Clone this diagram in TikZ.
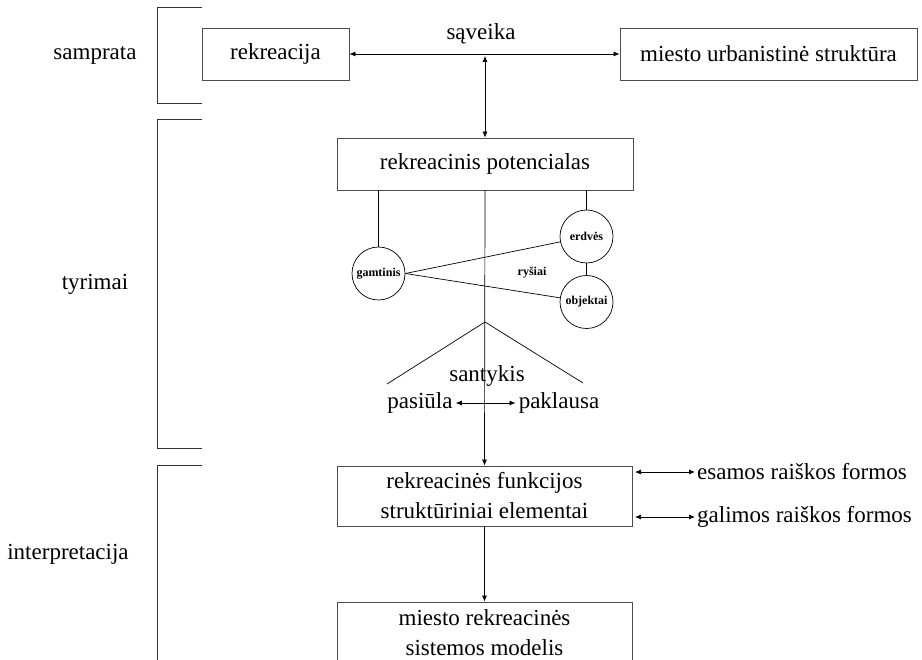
\documentclass[tikz,border=0pt]{standalone}
\usepackage{fontspec}
\setmainfont{Liberation Serif}
\usetikzlibrary{arrows.meta}
\tikzset{
  box/.style={draw=black!70, line width=0.8pt, minimum height=52pt, inner sep=2pt, font=\fontsize{23}{27}\selectfont, align=center},
  lbl/.style={inner sep=2pt, font=\fontsize{23}{27}\selectfont},
  circ/.style={draw, circle, minimum size=53pt, inner sep=0pt, line width=0.7pt, font=\bfseries\fontsize{12}{14}\selectfont},
  ln/.style={line width=0.7pt},
  arr/.style={line width=0.7pt, -{Latex[length=6pt,width=5pt]}},
  darr/.style={line width=0.7pt, {Latex[length=6pt,width=5pt]}-{Latex[length=6pt,width=5pt]}},
  brk/.style={draw=black!80, line width=1pt}
}
\begin{document}
\begin{tikzpicture}[x=1pt,y=-1pt]
\useasboundingbox (0,0) rectangle (922,660);
% brackets
\draw[brk] (202,8) -- (157,8) -- (157,104) -- (202,104);
\draw[brk] (202,120) -- (157,120) -- (157,449) -- (202,449);
\draw[brk] (202,466) -- (157,466) -- (157,670);
% side labels
\node[lbl] (samp) at (95,55) {samprata};
\node[lbl] (tyr) at (95,284) {tyrimai};
\node[lbl] (interp) at (68,554) {interpretacija};
% boxes
\node[box, minimum width=147pt] (rek) at (275.5,54) {rekreacija};
\node[box, minimum width=297pt] (mus) at (768.5,54) {miesto urbanistinė struktūra};
\node[box, minimum width=296pt] (pot) at (485,164) {rekreacinis potencialas};
\node[box, minimum width=295pt, minimum height=60pt] (fun) at (484.5,496) {rekreacinės funkcijos\\[3pt]struktūriniai elementai};
\node[box, minimum width=295pt, minimum height=62pt] (mod) at (484.5,633) {miesto rekreacinės\\[3pt]sistemos modelis};
% interaction
\draw[darr] (rek.east) -- (mus.west);
\node[lbl] (sav) at (481,34) {sąveika};
\coordinate (svp) at (485,56);
\draw[darr] (svp) -- (pot.north);
% circles
\node[circ] (gam) at (378.5,273.5) {gamtinis};
\node[circ] (erd) at (586.5,236.5) {erdvės};
\node[circ] (obj) at (586.5,302) {objektai};
\node[inner sep=1pt, font=\bfseries\fontsize{12}{14}\selectfont] (rys) at (532,273) {ryšiai};
\draw[ln] (pot.south -| gam.north) -- (gam.north);
\draw[ln] (pot.south -| erd.north) -- (erd.north);
\draw[ln] (erd.south) -- (obj.north);
\draw[ln] (gam.east) -- (erd);
\draw[ln] (gam.east) -- (obj);
% central line
\draw[arr] (pot.south) -- (fun.north);
\coordinate (apex) at (485,322);
\coordinate (tl) at (387,384);
\coordinate (tr) at (583,383);
\draw[ln] (tl) -- (apex) -- (tr);
\node[lbl] (san) at (487,376) {santykis};
\node[lbl, inner sep=3pt] (pas) at (420,403) {pasiūla};
\node[lbl, inner sep=3pt] (pak) at (559,403) {paklausa};
\draw[darr] (pas.east) -- (pak.west);
% right arrows
\node[lbl, anchor=west] (esa) at (695,472) {esamos raiškos formos};
\node[lbl, anchor=west] (gal) at (695,517) {galimos raiškos formos};
\coordinate (ea) at (635,472);
\coordinate (ga) at (635,517);
\draw[darr] (ea) -- (esa.west);
\draw[darr] (ga) -- (gal.west);
\draw[arr] (fun.south) -- (mod.north);
\end{tikzpicture}
\end{document}
